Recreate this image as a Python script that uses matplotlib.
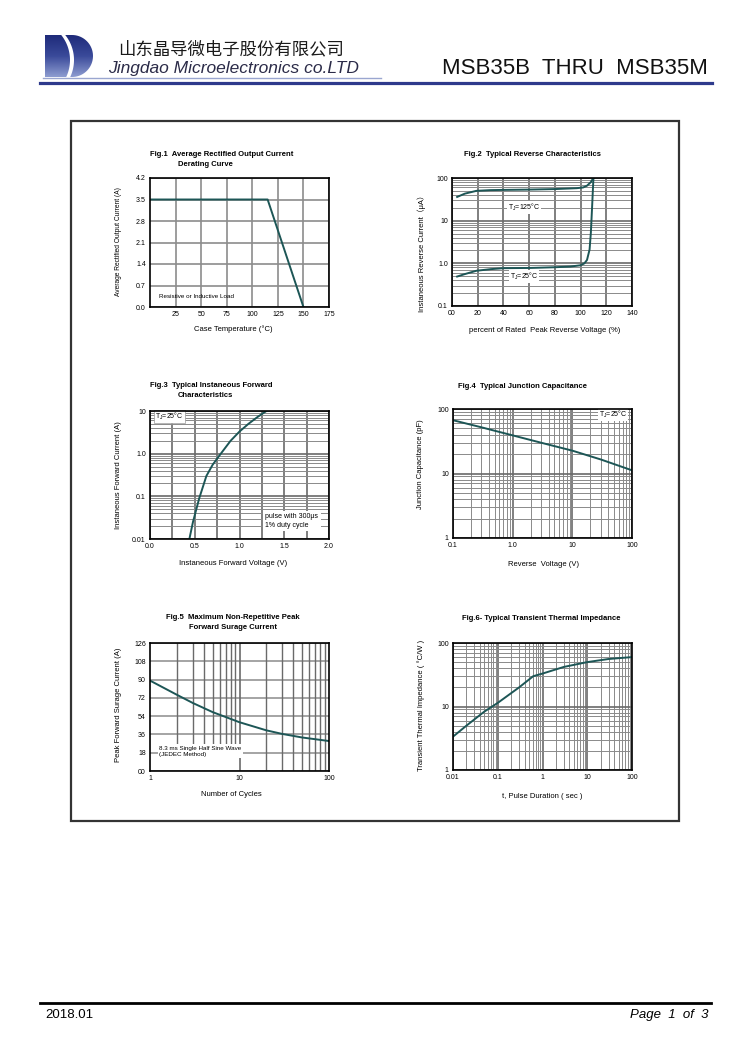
import numpy as np
import matplotlib
matplotlib.use("Agg")
import matplotlib.pyplot as plt
from matplotlib.patches import Rectangle, Polygon, PathPatch
from matplotlib.path import Path
from matplotlib.ticker import LogLocator, NullFormatter

plt.rcParams['font.family'] = ['Liberation Sans', 'Noto Sans CJK SC', 'DejaVu Sans']
plt.rcParams['mathtext.fontset'] = 'custom'
plt.rcParams['mathtext.rm'] = 'Liberation Sans'

# ---- data ----
# Fig.1 derating
f1_temp = [0, 115, 150]
f1_curr = [3.5, 3.5, 0.0]
# Fig.2 reverse characteristics (% of rated voltage, uA)
f2_x125 = [4, 10, 19, 30, 40, 60, 80, 97, 102, 105, 108, 109.7, 110.5]
f2_y125 = [36, 43, 50, 52, 52.6, 53.5, 55, 57.7, 60, 66, 80, 98, 100]
f2_x25 = [4, 10, 19, 30, 40, 61, 80, 92, 100, 103, 105, 107, 108, 109, 110]
f2_y25 = [0.49, 0.56, 0.67, 0.73, 0.77, 0.78, 0.81, 0.84, 0.9, 1.0, 1.2, 2.1, 5.2, 22, 100]
# Fig.3 forward characteristics (V, A)
f3_v = [0.44, 0.48, 0.55, 0.63, 0.70, 0.78, 0.90, 1.00, 1.10, 1.20, 1.30]
f3_i = [0.01, 0.025, 0.09, 0.3, 0.55, 0.93, 2.0, 3.3, 5.0, 7.2, 10]
# Fig.4 junction capacitance (V, pF)
f4_v = [0.1, 0.3, 1, 3, 10, 30, 100]
f4_c = [67, 52, 39, 30, 22.6, 16.5, 11.2]
# Fig.5 surge current (cycles, A)
f5_n = [1, 2, 3, 5, 10, 20, 30, 50, 100]
f5_a = [89, 75, 67, 58, 48, 40, 36.5, 33, 29.5]
# Fig.6 transient thermal impedance (s, C/W)
f6_t = [0.01, 0.02, 0.05, 0.1, 0.3, 0.62, 1, 3, 10, 30, 100]
f6_z = [3.35, 5, 8.3, 11.4, 20, 30, 33, 42, 50, 56, 60]

W, H = 750, 1060
CURVE = '#1d5656'
fig = plt.figure(figsize=(7.5, 10.6), dpi=100)
page = fig.add_axes([0, 0, 1, 1])
page.set_xlim(0, W)
page.set_ylim(H, 0)
page.axis('off')

# ---- header ----
# logo: gradient "D" with a thin white crescent
dverts = [(45, 35), (72, 35)]
for a in np.linspace(90, -90, 40):
    dverts.append((72 + 21 * np.cos(np.radians(a)), 56 - 21 * np.sin(np.radians(a))))
dverts += [(45, 77), (45, 35)]
dpath = Path(dverts, closed=True)
grad = np.linspace(0, 1, 100).reshape(-1, 1)
img = page.imshow(grad, extent=(45, 93, 77, 35), cmap=matplotlib.colors.LinearSegmentedColormap.from_list(
    'lg', ['#1f2b7a', '#3a4a9a', '#8d9cd0']), aspect='auto', zorder=2)
dp = PathPatch(dpath, facecolor='none', edgecolor='none')
page.add_patch(dp)
img.set_clip_path(dp)
ys = np.linspace(35, 77, 40)
xr = 34 + np.sqrt(40 ** 2 - (ys - 60) ** 2)
xl = 30 + np.sqrt(40 ** 2 - (ys - 60) ** 2)
cres = list(zip(xr, ys)) + list(zip(xl[::-1], ys[::-1]))
page.add_patch(Polygon(cres, closed=True, facecolor='white', edgecolor='none', zorder=3))

page.text(118, 49, '山东晶导微电子股份有限公司', fontsize=12.5, family=['Noto Sans CJK SC'],
          color='#1a1a1a', va='center', ha='left')
page.text(108, 68, 'Jingdao Microelectronics co.LTD', fontsize=12.5, style='italic',
          color='#2b2b48', va='center', ha='left')
page.text(708, 68, 'MSB35B  THRU  MSB35M', fontsize=16, color='#111111', va='center', ha='right')
page.plot([43, 381], [78, 78], color='#9aa6d0', lw=1)
page.plot([40, 712], [83, 83], color='#2e3a8c', lw=2.3)

# ---- footer ----
page.plot([40, 711], [1003, 1003], color='black', lw=2)
page.text(45, 1015, '2018.01', fontsize=9.5, va='center', ha='left')
page.text(708, 1015, 'Page  1  of  3', fontsize=9.5, style='italic', va='center', ha='right')

# frame
page.add_patch(Rectangle((71, 121), 608, 700, fill=False, edgecolor='#333333', lw=1.6))


def box(l, t, r, b):
    ax = fig.add_axes([l / W, 1 - b / H, (r - l) / W, (b - t) / H])
    for s in ax.spines.values():
        s.set_linewidth(1.2)
        s.set_color('black')
        s.set_zorder(5)
    ax.tick_params(which='both', length=0, labelsize=5, pad=3)
    return ax


def loggrid(ax, axis):
    a = ax.xaxis if axis == 'x' else ax.yaxis
    a.set_minor_locator(LogLocator(base=10, subs=range(2, 10)))
    a.set_minor_formatter(NullFormatter())
    ax.grid(True, which='minor', axis=axis, color='#8a8a8a', lw=0.7)
    ax.grid(True, which='major', axis=axis, color='#6a6a6a', lw=1.2)


TS = 5.5   # title size
LS = 5.5   # label size
bbox_w = dict(facecolor='white', edgecolor='none', pad=0.6)

# ---- Fig.1 ----
ax = box(150, 178, 329, 307)
ax.plot(f1_temp, f1_curr, color=CURVE, lw=1.4, zorder=4)
ax.set_xlim(0, 175)
ax.set_ylim(0, 4.2)
ax.set_xticks([25, 50, 75, 100, 125, 150, 175])
ax.set_xticklabels(['25', '50', '75', '100', '125', '150', '175'])
ax.set_yticks([0, 0.7, 1.4, 2.1, 2.8, 3.5, 4.2])
ax.set_yticklabels(['0.0', '0.7', '1.4', '2.1', '2.8', '3.5', '4.2'])
ax.grid(True, color='#8c8c8c', lw=1.2)
ax.text(0.05, 0.08, 'Resistive or Inductive Load', transform=ax.transAxes, fontsize=4.5, va='center')
page.text(150, 154, 'Fig.1  Average Rectified Output Current', fontsize=TS, weight='bold', va='center')
page.text(177.5, 164, 'Derating Curve', fontsize=TS, weight='bold', va='center')
page.text(233, 329, 'Case Temperature (°C)', fontsize=LS, ha='center', va='center')
page.text(118, 242, 'Average Rectified Output Current (A)', fontsize=4.8, rotation=90, ha='center', va='center')

# ---- Fig.2 ----
ax = box(452, 178, 632, 306)
ax.set_yscale('log')
ax.plot(f2_x125, f2_y125, color=CURVE, lw=1.4, zorder=4)
ax.plot(f2_x25, f2_y25, color=CURVE, lw=1.4, zorder=4)
ax.set_xlim(0, 140)
ax.set_ylim(0.1, 100)
ax.set_xticks([0, 20, 40, 60, 80, 100, 120, 140])
ax.set_xticklabels(['00', '20', '40', '60', '80', '100', '120', '140'])
ax.set_yticks([0.1, 1, 10, 100])
ax.set_yticklabels(['0.1', '1.0', '10', '100'])
loggrid(ax, 'y')
ax.grid(True, which='major', axis='x', color='#6a6a6a', lw=1.2)
ax.text(56, 20, r'T$_\mathregular{J}$=125°C', fontsize=5, ha='center', va='center', bbox=bbox_w, zorder=4)
ax.text(56, 0.5, r'T$_\mathregular{J}$=25°C', fontsize=5, ha='center', va='center', bbox=bbox_w, zorder=4)
page.text(533, 154, 'Fig.2  Typical Reverse Characteristics', fontsize=TS, weight='bold', ha='center', va='center')
page.text(545, 331, 'percent of Rated  Peak Reverse Voltage (%)', fontsize=LS, ha='center', va='center')
page.text(422, 252, 'Instaneous Reverse Current（μA）', fontsize=LS, rotation=90, ha='center', va='center')

# ---- Fig.3 ----
ax = box(150, 411, 329, 539)
ax.set_yscale('log')
ax.plot(f3_v, f3_i, color=CURVE, lw=1.4, zorder=4)
ax.set_xlim(0, 2.0)
ax.set_ylim(0.01, 10)
ax.set_xticks([0, 0.5, 1.0, 1.5, 2.0])
ax.set_xticklabels(['0.0', '0.5', '1.0', '1.5', '2.0'])
ax.set_xticks([0.25, 0.75, 1.25, 1.75], minor=True)
ax.set_yticks([0.01, 0.1, 1, 10])
ax.set_yticklabels(['0.01', '0.1', '1.0', '10'])
loggrid(ax, 'y')
ax.grid(True, which='both', axis='x', color='#6a6a6a', lw=1.2)
ax.text(0.03, 0.955, r'T$_\mathregular{J}$=25°C', transform=ax.transAxes, fontsize=5, va='center',
        bbox=dict(facecolor='white', edgecolor='#999999', lw=0.5, pad=0.8), zorder=4)
ax.text(0.645, 0.14, 'pulse with 300μs\n1% duty cycle', transform=ax.transAxes, fontsize=5,
        va='center', linespacing=1.3, bbox=dict(facecolor='white', edgecolor='none', pad=1.5), zorder=4)
page.text(150, 385.7, 'Fig.3  Typical Instaneous Forward', fontsize=TS, weight='bold', va='center')
page.text(177.5, 395.7, 'Characteristics', fontsize=TS, weight='bold', va='center')
page.text(233, 563.5, 'Instaneous Forward Voltage (V)', fontsize=LS, ha='center', va='center')
page.text(118, 475, 'Instaneous Forward Current (A)', fontsize=LS, rotation=90, ha='center', va='center')

# ---- Fig.4 ----
ax = box(453, 409, 632, 538)
ax.set_xscale('log')
ax.set_yscale('log')
ax.plot(f4_v, f4_c, color=CURVE, lw=1.4, zorder=4)
ax.set_xlim(0.1, 100)
ax.set_ylim(1, 100)
ax.set_xticks([0.1, 1, 10, 100])
ax.set_xticklabels(['0.1', '1.0', '10', '100'])
ax.set_yticks([1, 10, 100])
ax.set_yticklabels(['1', '10', '100'])
loggrid(ax, 'x')
loggrid(ax, 'y')
ax.text(0.975, 0.955, r'T$_\mathregular{J}$=25°C', transform=ax.transAxes, fontsize=5, ha='right',
        va='center', bbox=bbox_w, zorder=4)
page.text(457.5, 386, 'Fig.4  Typical Junction Capacitance', fontsize=TS, weight='bold', va='center')
page.text(543, 564, 'Reverse  Voltage (V)', fontsize=LS, ha='center', va='center')
page.text(421, 464, 'Junction Capacitance (pF)', fontsize=LS, rotation=90, ha='center', va='center')

# ---- Fig.5 ----
ax = box(150, 643, 329, 771)
ax.set_xscale('log')
ax.plot(f5_n, f5_a, color=CURVE, lw=1.4, zorder=4)
ax.set_xlim(1, 100)
ax.set_ylim(0, 126)
ax.set_xticks([1, 10, 100])
ax.set_xticklabels(['1', '10', '100'])
ax.xaxis.set_minor_formatter(NullFormatter())
ax.set_xticks([], minor=True)
ax.set_yticks([0, 18, 36, 54, 72, 90, 108, 126])
ax.set_yticklabels(['00', '18', '36', '54', '72', '90', '108', '126'])
ax.grid(True, which='major', axis='y', color='#8c8c8c', lw=1.1)
for k in range(2, 10):
    ax.axvline(k, ymin=0.217, ymax=1, color='#6a6a6a', lw=1.0)
    ax.axvline(k * 10, color='#6a6a6a', lw=1.0)
ax.axvline(10, color='#6a6a6a', lw=1.2)
ax.text(0.05, 0.155, '8.3 ms Single Half Sine Wave\n(JEDEC Method)', transform=ax.transAxes, fontsize=4.5,
        va='center', linespacing=1.3, bbox=dict(facecolor='white', edgecolor='none', pad=1.0), zorder=4)
page.text(233, 617.3, 'Fig.5  Maximum Non-Repetitive Peak', fontsize=TS, weight='bold', ha='center', va='center')
page.text(233, 627.7, 'Forward Surage Current', fontsize=TS, weight='bold', ha='center', va='center')
page.text(231, 795, 'Number of Cycles', fontsize=LS, ha='center', va='center')
page.text(118, 705, 'Peak Forward Surage Current (A)', fontsize=LS, rotation=90, ha='center', va='center')

# ---- Fig.6 ----
ax = box(453, 643, 632, 770)
ax.set_xscale('log')
ax.set_yscale('log')
ax.plot(f6_t, f6_z, color=CURVE, lw=1.4, zorder=4)
ax.set_xlim(0.01, 100)
ax.set_ylim(1, 100)
ax.set_xticks([0.01, 0.1, 1, 10, 100])
ax.set_xticklabels(['0.01', '0.1', '1', '10', '100'])
ax.set_yticks([1, 10, 100])
ax.set_yticklabels(['1', '10', '100'])
loggrid(ax, 'x')
loggrid(ax, 'y')
page.text(541, 618.3, 'Fig.6- Typical Transient Thermal Impedance', fontsize=TS, weight='bold', ha='center', va='center')
page.text(542, 797, 't, Pulse Duration ( sec )', fontsize=LS, ha='center', va='center')
page.text(421, 705, 'Transient Thermal Impedance ( °C/W )', fontsize=LS, rotation=90, ha='center', va='center')

fig.savefig('out.png', dpi=100)
